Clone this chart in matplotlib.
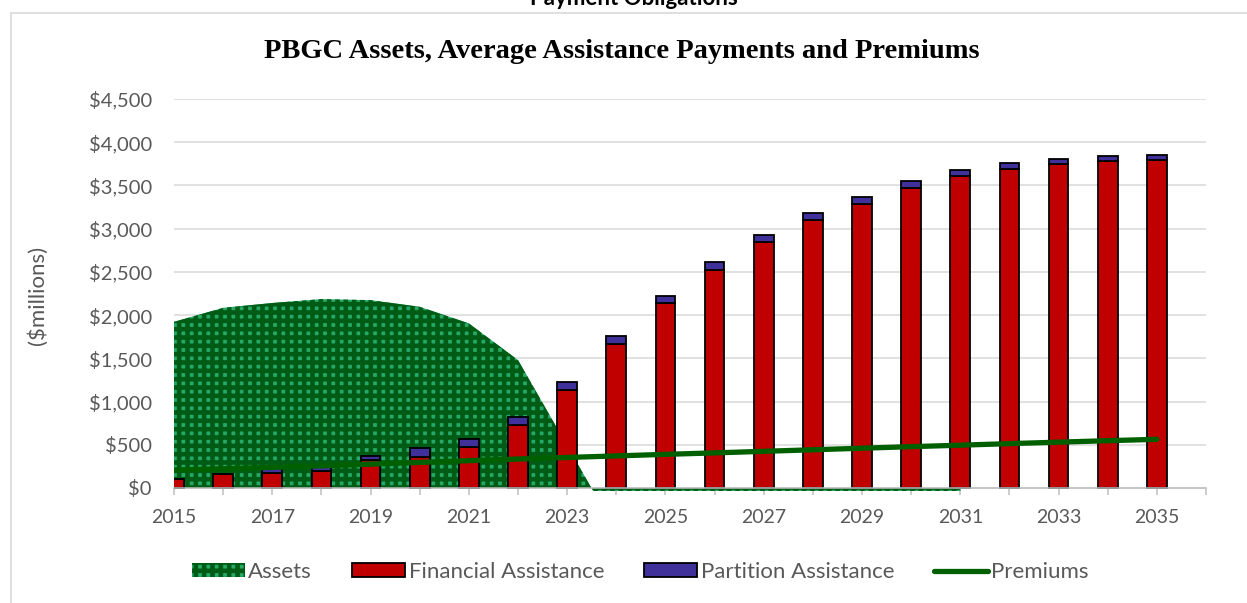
import numpy as np
import matplotlib
matplotlib.use("Agg")
from matplotlib import pyplot as plt
from matplotlib.patches import Rectangle, Patch
from matplotlib.lines import Line2D

years = list(range(2015, 2036))

#Assets ($millions), below zero after 2023 and no value after 2031
assets = [1922, 2084, 2140, 2185, 2173, 2096, 1904, 1480, 490,
          -500, -600, -700, -800, -850, -900, -950, -1000,
          np.nan, np.nan, np.nan, np.nan]

financial = [100, 158, 175, 200, 320, 360, 470, 730, 1135, 1665, 2135,
             2520, 2840, 3105, 3290, 3476, 3607, 3688, 3746, 3780, 3792]

partition = [0, 0, 60, 45, 55, 100, 100, 95, 95, 92, 88,
             89, 85, 80, 77, 77, 73, 69, 65, 62, 61]

premiums = [208, 222, 238, 256, 276, 296, 316, 335, 353, 371, 389,
            406, 424, 442, 460, 478, 495, 513, 530, 547, 563]

gray_txt = '#595959'
grid_col = '#D9D9D9'
plt.rcParams['font.family'] = ['Lato', 'DejaVu Sans']
plt.rcParams['hatch.linewidth'] = 3.3
plt.rcParams['hatch.color'] = '#005C14'

x = np.arange(len(years))

fig = plt.figure(figsize=(12.47, 6.03), dpi=100)
ax = fig.add_axes([174/1247, (603-491)/603, (1206-174)/1247, (491-99)/603])

#Assets area
ax.fill_between(x, 0, np.array(assets, dtype=float), facecolor='#25A968',
                edgecolor='#005C14', hatch='++', linewidth=0, zorder=1)

#Stacked bars
ax.bar(x, financial, width=0.4, color='#C00000', edgecolor='black',
       linewidth=1.3, zorder=2)
ax.bar(x, partition, width=0.4, bottom=financial, color='#40309A',
       edgecolor='black', linewidth=1.3, zorder=2)

#Premiums line
ax.plot(x, premiums, color='#006000', linewidth=3.8, solid_capstyle='round', zorder=3)

#Axes formatting
ax.set_xlim(0, 21)
ax.set_ylim(-35, 4500)
ax.set_yticks(range(0, 4501, 500))
ax.set_yticklabels(['${:,}'.format(v) for v in range(0, 4501, 500)])
ax.set_xticks(range(22))
ax.set_xticklabels([str(y) if (y - 2015) % 2 == 0 else '' for y in years] + [''])
ax.grid(axis='y', color=grid_col, linewidth=1.1, zorder=0)
ax.set_axisbelow(True)
for s in ['top', 'left', 'right']:
    ax.spines[s].set_visible(False)
ax.spines['bottom'].set_position(('data', 0))
ax.spines['bottom'].set_color('#BFBFBF')
ax.spines['bottom'].set_linewidth(1.1)
ax.spines['bottom'].set_zorder(4)
ax.tick_params(axis='y', length=0, pad=16, labelsize=14.5, labelcolor=gray_txt)
ax.tick_params(axis='x', length=5, width=1.1, color='#BFBFBF', pad=10,
               labelsize=14, labelcolor=gray_txt)
ax.set_ylabel('($millions)', fontsize=16, color=gray_txt)
ax.yaxis.set_label_coords(-(174-48)/(1206-174), 0.5)

#Titles
fig.text(622/1247, 1-52/603, 'PBGC Assets, Average Assistance Payments and Premiums',
         ha='center', va='center', family='Liberation Serif', weight='bold', fontsize=20.5)
fig.text(634/1247, 1-5/603, 'Payment Obligations', ha='center', va='baseline',
         weight='bold', fontsize=16)

#Chart border
fig.patches.append(Rectangle((11/1247, -0.1), 1.2, 1.1-13/603, transform=fig.transFigure,
                             fill=False, edgecolor=grid_col, linewidth=1.2))

#Legend
handles = [Patch(facecolor='#25A968', edgecolor='#005C14', hatch='++', linewidth=0),
           Patch(facecolor='#C00000', edgecolor='black', linewidth=1.3),
           Patch(facecolor='#40309A', edgecolor='black', linewidth=1.3),
           Line2D([], [], color='#006000', linewidth=3.8, solid_capstyle='round')]
labels = ['Assets', 'Financial Assistance', 'Partition Assistance', 'Premiums']
leg = fig.legend(handles, labels, loc='center', bbox_to_anchor=(640/1247, 1-572/603),
                 ncol=4, frameon=False, fontsize=16, handlelength=2.4,
                 handleheight=0.6, handletextpad=0.15, columnspacing=1.8)
for t in leg.get_texts():
    t.set_color(gray_txt)

plt.savefig('out.png', dpi=100)
